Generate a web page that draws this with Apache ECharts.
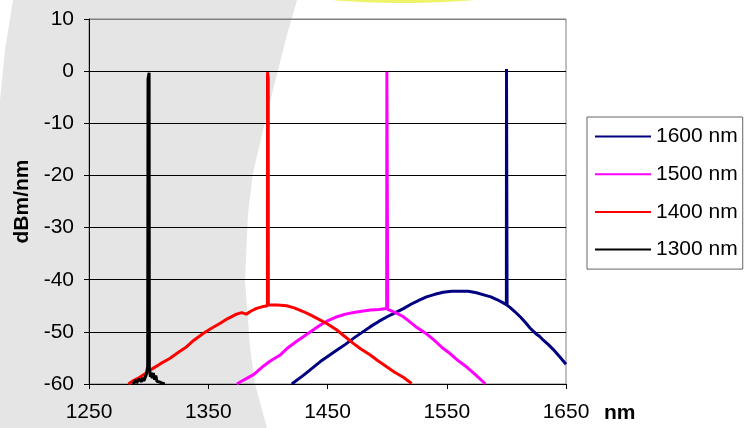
<!DOCTYPE html>
<html>
<head>
<meta charset="utf-8">
<script src="https://cdn.jsdelivr.net/npm/echarts@6/dist/echarts.min.js"></script>
<style>
html,body{margin:0;padding:0;background:#fff;}
#c{width:755px;height:428px;}
</style>
</head>
<body>
<div id="c"></div>
<script>
var seriesNames = ['1600 nm', '1500 nm', '1400 nm', '1300 nm'];
var seriesColors = ['#000080', '#FF00FF', '#FF0000', '#000000'];
var xTicks = [1250, 1350, 1450, 1550, 1650];
var yTicks = [-60, -50, -40, -30, -20, -10, 0, 10];

var s1600 = [[1420,-60],[1430,-58.3],[1437,-57],[1444,-55.7],[1451,-54.6],[1458,-53.5],[1465,-52.4],[1472,-51.2],[1479,-50.1],[1486,-49],[1493,-48],[1500,-47.1],[1507,-46.3],[1514,-45.5],[1520,-44.7],[1527,-43.9],[1533,-43.3],[1540,-42.8],[1547,-42.4],[1554,-42.2],[1561,-42.2],[1568,-42.2],[1575,-42.5],[1581,-42.9],[1587,-43.3],[1592,-43.8],[1597,-44.4],[1600,-44.8],[1600.1,0.4],[1600.5,0.3],[1600.6,-44.9],[1603,-45.3],[1607,-46.1],[1612,-47.2],[1616,-48.2],[1620,-49.3],[1625,-50.4],[1628,-50.9],[1631,-51.6],[1635,-52.4],[1639,-53.3],[1644,-54.6],[1650,-56.2]];
var s1500 = [[1374,-60],[1380,-59.2],[1388,-58.2],[1395,-56.8],[1402,-55.6],[1410,-54.5],[1416,-53.2],[1423,-52],[1430,-50.9],[1437,-49.8],[1444,-48.7],[1450,-47.9],[1458,-47.1],[1465,-46.6],[1472,-46.3],[1480,-46],[1486,-45.8],[1493,-45.7],[1499.6,-45.5],[1499.8,-0.1],[1500.4,-0.2],[1500.5,-45.7],[1502,-45.8],[1507,-46.3],[1513,-47],[1518,-47.9],[1524,-49],[1532,-50.2],[1539,-51.5],[1546,-53],[1553,-54.2],[1560,-55.6],[1567,-56.8],[1574,-58.2],[1582.5,-60]];
var s1400 = [[1283,-60],[1287,-59.4],[1292.6,-58.7],[1298,-57.9],[1303.7,-57.0],[1310,-56.1],[1317.7,-55.1],[1325,-53.9],[1331.7,-52.9],[1338,-51.6],[1345.7,-50.3],[1352,-49.4],[1359.7,-48.4],[1366,-47.5],[1373.7,-46.6],[1378,-46.3],[1382,-46.6],[1386,-46.0],[1390.5,-45.5],[1395,-45.2],[1399.6,-45.0],[1399.7,-0.2],[1400.3,-1.4],[1400.4,-44.8],[1402,-44.85],[1408,-44.85],[1415.7,-45.0],[1422,-45.4],[1429.7,-46.1],[1436,-46.8],[1443.6,-47.7],[1450,-48.5],[1457.6,-49.6],[1464,-50.8],[1471.6,-52.2],[1478,-53.3],[1485.6,-54.4],[1492,-55.5],[1499.6,-56.7],[1506,-57.7],[1513.5,-58.7],[1520.6,-59.9]];
var s1300 = [[1287,-60],[1289,-59.3],[1290,-59.8],[1292,-59.0],[1294,-59.6],[1295,-58.8],[1296,-59.4],[1298,-58.2],[1299.2,-56.7],[1299.5,-1.5],[1300.4,-0.3],[1300.6,-57],[1301.5,-58.6],[1302,-57.8],[1303,-58.9],[1304,-57.9],[1305,-59.2],[1306,-58.4],[1307,-59.5],[1309,-59.6],[1311,-59.8],[1313.5,-60]];
var seriesData = [s1600, s1500, s1400, s1300];

var chart = echarts.init(document.getElementById('c'), null, {renderer: 'canvas'});
var FONT = 'Liberation Sans, Arial, sans-serif';
var FS = 21;

var splitColors = yTicks.map(function (v, i) { return i === yTicks.length - 1 ? '#808080' : '#000000'; });

var option = {
  animation: false,
  backgroundColor: '#ffffff',
  textStyle: {fontFamily: FONT},
  graphic: [
    {
      type: 'polygon', z: -10, silent: true,
      shape: {points: [[13,0],[297,0],[287,35],[278,70],[265,122],[253,173],[248,214],[245,281],[250,347],[255,384],[267,428],[0,428],[0,100],[5,50]]},
      style: {fill: '#e5e5e5'}
    },
    {
      type: 'ellipse', z: -10, silent: true,
      shape: {cx: 403, cy: -17, rx: 135, ry: 20},
      style: {fill: '#eef36a'}
    }
  ],
  grid: {
    left: 89, top: 19, width: 477, height: 365,
    show: true, borderColor: '#808080', borderWidth: 1, backgroundColor: 'transparent'
  },
  legend: {
    data: seriesNames,
    orient: 'vertical',
    left: 587, top: 117,
    padding: [9, 5, 9, 8],
    icon: 'rect',
    itemWidth: 56, itemHeight: 2, itemGap: 16.7,
    borderColor: '#666666', borderWidth: 1, backgroundColor: '#ffffff',
    textStyle: {fontFamily: FONT, fontSize: FS, color: '#000', lineHeight: 21}
  },
  xAxis: {
    type: 'value', min: 1250, max: 1650, interval: 100,
    name: 'nm', nameLocation: 'end', nameGap: 38,
    nameTextStyle: {fontFamily: FONT, fontSize: FS, fontWeight: 'bold', color: '#000', verticalAlign: 'top', padding: [19, 0, 0, 0]},
    axisLine: {show: true, onZero: false, lineStyle: {color: '#000', width: 1}},
    axisTick: {show: true, inside: false, length: 5, lineStyle: {color: '#000'}},
    axisLabel: {fontFamily: FONT, fontSize: FS, color: '#000', margin: 18, formatter: function (v) { return String(v); }},
    splitLine: {show: false}
  },
  yAxis: {
    type: 'value', min: -60, max: 10, interval: 10,
    name: 'dBm/nm', nameLocation: 'middle', nameGap: 44,
    nameTextStyle: {fontFamily: FONT, fontSize: FS, fontWeight: 'bold', color: '#000'},
    axisLine: {show: true, lineStyle: {color: '#000', width: 1}},
    axisTick: {show: true, inside: false, length: 5, lineStyle: {color: '#000'}},
    axisLabel: {fontFamily: FONT, fontSize: FS, color: '#000', margin: 15, formatter: function (v) { return String(v); }},
    splitLine: {show: true, lineStyle: {color: splitColors, width: 1}}
  },
  series: seriesNames.map(function (n, i) {
    return {
      name: n, type: 'line', data: seriesData[i],
      symbol: 'none', showSymbol: false, clip: true,
      lineStyle: {color: seriesColors[i], width: 3},
      itemStyle: {color: seriesColors[i]},
      z: 2 + i
    };
  })
};
chart.setOption(option);
</script>
</body>
</html>
